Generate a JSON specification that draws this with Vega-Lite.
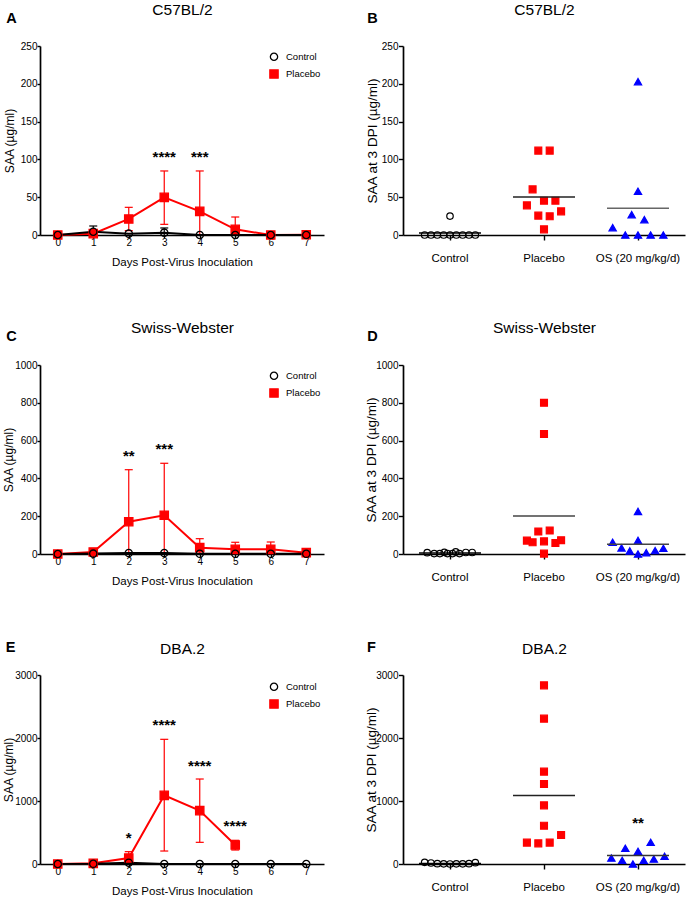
{
  "$schema": "https://vega.github.io/schema/vega-lite/v6.json",
  "padding": {"left": 2, "top": 2, "right": 3, "bottom": 0},
  "background": "white",
  "datasets": {
    "time": [
      {"strain": "C57BL/2", "group": "Placebo", "day": 0, "mean": 0},
      {"strain": "C57BL/2", "group": "Placebo", "day": 1, "mean": 1.8},
      {"strain": "C57BL/2", "group": "Placebo", "day": 2, "mean": 21.2, "lo": 5.8, "hi": 36.6},
      {"strain": "C57BL/2", "group": "Placebo", "day": 3, "mean": 49.8, "lo": 14.1, "hi": 84.7},
      {"strain": "C57BL/2", "group": "Placebo", "day": 4, "mean": 31.3, "lo": 0, "hi": 84.7},
      {"strain": "C57BL/2", "group": "Placebo", "day": 5, "mean": 7.5, "lo": 0, "hi": 23.8},
      {"strain": "C57BL/2", "group": "Placebo", "day": 6, "mean": 0},
      {"strain": "C57BL/2", "group": "Placebo", "day": 7, "mean": 0.4},
      {"strain": "C57BL/2", "group": "Control", "day": 0, "mean": 0},
      {"strain": "C57BL/2", "group": "Control", "day": 1, "mean": 4.4, "lo": 0, "hi": 11.9},
      {"strain": "C57BL/2", "group": "Control", "day": 2, "mean": 1.8},
      {"strain": "C57BL/2", "group": "Control", "day": 3, "mean": 3.1, "lo": 0, "hi": 9.3},
      {"strain": "C57BL/2", "group": "Control", "day": 4, "mean": 0},
      {"strain": "C57BL/2", "group": "Control", "day": 5, "mean": 0},
      {"strain": "C57BL/2", "group": "Control", "day": 6, "mean": 0},
      {"strain": "C57BL/2", "group": "Control", "day": 7, "mean": 0},
      {"strain": "Swiss-Webster", "group": "Placebo", "day": 0, "mean": 0},
      {"strain": "Swiss-Webster", "group": "Placebo", "day": 1, "mean": 10.6, "lo": 0, "hi": 18},
      {"strain": "Swiss-Webster", "group": "Placebo", "day": 2, "mean": 171, "lo": 0, "hi": 446},
      {"strain": "Swiss-Webster", "group": "Placebo", "day": 3, "mean": 205, "lo": 0, "hi": 480},
      {"strain": "Swiss-Webster", "group": "Placebo", "day": 4, "mean": 33.5, "lo": 0, "hi": 81},
      {"strain": "Swiss-Webster", "group": "Placebo", "day": 5, "mean": 24.7, "lo": 0, "hi": 62},
      {"strain": "Swiss-Webster", "group": "Placebo", "day": 6, "mean": 24.7, "lo": 0, "hi": 63.5},
      {"strain": "Swiss-Webster", "group": "Placebo", "day": 7, "mean": 7, "lo": 0, "hi": 14},
      {"strain": "Swiss-Webster", "group": "Control", "day": 0, "mean": 0},
      {"strain": "Swiss-Webster", "group": "Control", "day": 1, "mean": 2},
      {"strain": "Swiss-Webster", "group": "Control", "day": 2, "mean": 5},
      {"strain": "Swiss-Webster", "group": "Control", "day": 3, "mean": 5},
      {"strain": "Swiss-Webster", "group": "Control", "day": 4, "mean": 1},
      {"strain": "Swiss-Webster", "group": "Control", "day": 5, "mean": 1},
      {"strain": "Swiss-Webster", "group": "Control", "day": 6, "mean": 1},
      {"strain": "Swiss-Webster", "group": "Control", "day": 7, "mean": 1},
      {"strain": "DBA.2", "group": "Placebo", "day": 0, "mean": 0},
      {"strain": "DBA.2", "group": "Placebo", "day": 1, "mean": 10.6, "lo": 0, "hi": 25},
      {"strain": "DBA.2", "group": "Placebo", "day": 2, "mean": 95, "lo": 0, "hi": 196},
      {"strain": "DBA.2", "group": "Placebo", "day": 3, "mean": 1090, "lo": 206, "hi": 1979},
      {"strain": "DBA.2", "group": "Placebo", "day": 4, "mean": 847, "lo": 344, "hi": 1349},
      {"strain": "DBA.2", "group": "Placebo", "day": 5, "mean": 302, "lo": 222, "hi": 376},
      {"strain": "DBA.2", "group": "Control", "day": 0, "mean": 0},
      {"strain": "DBA.2", "group": "Control", "day": 1, "mean": 3},
      {"strain": "DBA.2", "group": "Control", "day": 2, "mean": 21},
      {"strain": "DBA.2", "group": "Control", "day": 3, "mean": 0},
      {"strain": "DBA.2", "group": "Control", "day": 4, "mean": 0},
      {"strain": "DBA.2", "group": "Control", "day": 5, "mean": 0},
      {"strain": "DBA.2", "group": "Control", "day": 6, "mean": 0},
      {"strain": "DBA.2", "group": "Control", "day": 7, "mean": 0}
    ],
    "stars_time": [
      {"strain": "C57BL/2", "day": 3, "y": 108, "label": "****"},
      {"strain": "C57BL/2", "day": 4, "y": 108, "label": "***"},
      {"strain": "Swiss-Webster", "day": 2, "y": 541, "label": "**"},
      {"strain": "Swiss-Webster", "day": 3, "y": 577, "label": "***"},
      {"strain": "DBA.2", "day": 2, "y": 476, "label": "*"},
      {"strain": "DBA.2", "day": 3, "y": 2265, "label": "****"},
      {"strain": "DBA.2", "day": 4, "y": 1624, "label": "****"},
      {"strain": "DBA.2", "day": 5, "y": 667, "label": "****"}
    ],
    "stars_dots": [
      {"strain": "DBA.2", "group": "OS (20 mg/kg/d)", "y": 709, "label": "**"}
    ],
    "dots": [
      {"strain": "C57BL/2", "group": "Control", "slot": -4, "value": 0},
      {"strain": "C57BL/2", "group": "Control", "slot": -3, "value": 0},
      {"strain": "C57BL/2", "group": "Control", "slot": -2, "value": 0},
      {"strain": "C57BL/2", "group": "Control", "slot": -1, "value": 0},
      {"strain": "C57BL/2", "group": "Control", "slot": 0, "value": 0},
      {"strain": "C57BL/2", "group": "Control", "slot": 1, "value": 0},
      {"strain": "C57BL/2", "group": "Control", "slot": 2, "value": 0},
      {"strain": "C57BL/2", "group": "Control", "slot": 3, "value": 0},
      {"strain": "C57BL/2", "group": "Control", "slot": 4, "value": 0},
      {"strain": "C57BL/2", "group": "Control", "slot": 0, "value": 25},
      {"strain": "C57BL/2", "group": "Placebo", "slot": -0.9, "value": 111.6},
      {"strain": "C57BL/2", "group": "Placebo", "slot": 0.9, "value": 111.6},
      {"strain": "C57BL/2", "group": "Placebo", "slot": -1.8, "value": 60.4},
      {"strain": "C57BL/2", "group": "Placebo", "slot": -2.7, "value": 39.2},
      {"strain": "C57BL/2", "group": "Placebo", "slot": 0, "value": 45.4},
      {"strain": "C57BL/2", "group": "Placebo", "slot": 1.8, "value": 45.4},
      {"strain": "C57BL/2", "group": "Placebo", "slot": 2.7, "value": 31.3},
      {"strain": "C57BL/2", "group": "Placebo", "slot": -0.9, "value": 25.6},
      {"strain": "C57BL/2", "group": "Placebo", "slot": 0.9, "value": 24.7},
      {"strain": "C57BL/2", "group": "Placebo", "slot": 0, "value": 7.5},
      {"strain": "C57BL/2", "group": "OS (20 mg/kg/d)", "slot": 0, "value": 202.8},
      {"strain": "C57BL/2", "group": "OS (20 mg/kg/d)", "slot": 0, "value": 57.8},
      {"strain": "C57BL/2", "group": "OS (20 mg/kg/d)", "slot": -1, "value": 26.9},
      {"strain": "C57BL/2", "group": "OS (20 mg/kg/d)", "slot": 1, "value": 20.3},
      {"strain": "C57BL/2", "group": "OS (20 mg/kg/d)", "slot": -4, "value": 9.7},
      {"strain": "C57BL/2", "group": "OS (20 mg/kg/d)", "slot": -2, "value": 0},
      {"strain": "C57BL/2", "group": "OS (20 mg/kg/d)", "slot": 0, "value": 0},
      {"strain": "C57BL/2", "group": "OS (20 mg/kg/d)", "slot": 2, "value": 0},
      {"strain": "C57BL/2", "group": "OS (20 mg/kg/d)", "slot": 4, "value": 0},
      {"strain": "Swiss-Webster", "group": "Control", "slot": -3.6, "value": 7},
      {"strain": "Swiss-Webster", "group": "Control", "slot": -2.5, "value": 2},
      {"strain": "Swiss-Webster", "group": "Control", "slot": -1.6, "value": 2},
      {"strain": "Swiss-Webster", "group": "Control", "slot": -0.9, "value": 9},
      {"strain": "Swiss-Webster", "group": "Control", "slot": -0.4, "value": 2},
      {"strain": "Swiss-Webster", "group": "Control", "slot": 0.4, "value": 2},
      {"strain": "Swiss-Webster", "group": "Control", "slot": 0.9, "value": 11},
      {"strain": "Swiss-Webster", "group": "Control", "slot": 1.5, "value": 2},
      {"strain": "Swiss-Webster", "group": "Control", "slot": 2.5, "value": 8},
      {"strain": "Swiss-Webster", "group": "Control", "slot": 3.5, "value": 8},
      {"strain": "Swiss-Webster", "group": "Placebo", "slot": 0, "value": 800},
      {"strain": "Swiss-Webster", "group": "Placebo", "slot": 0, "value": 635},
      {"strain": "Swiss-Webster", "group": "Placebo", "slot": -0.9, "value": 119},
      {"strain": "Swiss-Webster", "group": "Placebo", "slot": 0.9, "value": 124},
      {"strain": "Swiss-Webster", "group": "Placebo", "slot": -2.7, "value": 71},
      {"strain": "Swiss-Webster", "group": "Placebo", "slot": -1.8, "value": 62},
      {"strain": "Swiss-Webster", "group": "Placebo", "slot": 0, "value": 67},
      {"strain": "Swiss-Webster", "group": "Placebo", "slot": 1.8, "value": 58},
      {"strain": "Swiss-Webster", "group": "Placebo", "slot": 2.7, "value": 73},
      {"strain": "Swiss-Webster", "group": "Placebo", "slot": 0, "value": 2},
      {"strain": "Swiss-Webster", "group": "OS (20 mg/kg/d)", "slot": 0, "value": 225},
      {"strain": "Swiss-Webster", "group": "OS (20 mg/kg/d)", "slot": 0, "value": 72},
      {"strain": "Swiss-Webster", "group": "OS (20 mg/kg/d)", "slot": -4, "value": 62},
      {"strain": "Swiss-Webster", "group": "OS (20 mg/kg/d)", "slot": -2.6, "value": 32},
      {"strain": "Swiss-Webster", "group": "OS (20 mg/kg/d)", "slot": -1.3, "value": 16},
      {"strain": "Swiss-Webster", "group": "OS (20 mg/kg/d)", "slot": 0, "value": 0},
      {"strain": "Swiss-Webster", "group": "OS (20 mg/kg/d)", "slot": 1.3, "value": 7},
      {"strain": "Swiss-Webster", "group": "OS (20 mg/kg/d)", "slot": 2.7, "value": 18},
      {"strain": "Swiss-Webster", "group": "OS (20 mg/kg/d)", "slot": 4, "value": 30},
      {"strain": "DBA.2", "group": "Control", "slot": -4, "value": 26},
      {"strain": "DBA.2", "group": "Control", "slot": -3, "value": 16},
      {"strain": "DBA.2", "group": "Control", "slot": -2, "value": 5},
      {"strain": "DBA.2", "group": "Control", "slot": -1, "value": 2},
      {"strain": "DBA.2", "group": "Control", "slot": 0, "value": 0},
      {"strain": "DBA.2", "group": "Control", "slot": 1, "value": 2},
      {"strain": "DBA.2", "group": "Control", "slot": 2, "value": 2},
      {"strain": "DBA.2", "group": "Control", "slot": 3, "value": 5},
      {"strain": "DBA.2", "group": "Control", "slot": 4, "value": 21},
      {"strain": "DBA.2", "group": "Placebo", "slot": 0, "value": 2836},
      {"strain": "DBA.2", "group": "Placebo", "slot": 0, "value": 2307},
      {"strain": "DBA.2", "group": "Placebo", "slot": 0, "value": 1466},
      {"strain": "DBA.2", "group": "Placebo", "slot": 0, "value": 1270},
      {"strain": "DBA.2", "group": "Placebo", "slot": 0, "value": 931},
      {"strain": "DBA.2", "group": "Placebo", "slot": 0, "value": 608},
      {"strain": "DBA.2", "group": "Placebo", "slot": 2.7, "value": 460},
      {"strain": "DBA.2", "group": "Placebo", "slot": -2.7, "value": 339},
      {"strain": "DBA.2", "group": "Placebo", "slot": -0.9, "value": 328},
      {"strain": "DBA.2", "group": "Placebo", "slot": 0.9, "value": 339},
      {"strain": "DBA.2", "group": "OS (20 mg/kg/d)", "slot": 2, "value": 344},
      {"strain": "DBA.2", "group": "OS (20 mg/kg/d)", "slot": -2, "value": 249},
      {"strain": "DBA.2", "group": "OS (20 mg/kg/d)", "slot": 0, "value": 201},
      {"strain": "DBA.2", "group": "OS (20 mg/kg/d)", "slot": -4.2, "value": 95},
      {"strain": "DBA.2", "group": "OS (20 mg/kg/d)", "slot": -2.5, "value": 58},
      {"strain": "DBA.2", "group": "OS (20 mg/kg/d)", "slot": -0.8, "value": 0},
      {"strain": "DBA.2", "group": "OS (20 mg/kg/d)", "slot": 0.9, "value": 58},
      {"strain": "DBA.2", "group": "OS (20 mg/kg/d)", "slot": 2.5, "value": 79},
      {"strain": "DBA.2", "group": "OS (20 mg/kg/d)", "slot": 4.2, "value": 122}
    ]
  },
  "columns": 2,
  "spacing": {"row": 52, "column": 40},
  "align": "each",
  "resolve": {"scale": {"color": "independent", "fill": "independent", "stroke": "independent", "shape": "independent", "size": "independent", "xOffset": "independent"}},
  "concat": [
    {
      "width": 284, "height": 189,
      "resolve": {"axis": {"x": "independent", "y": "independent"}},
      "layer": [
        {"data": {"name": "time"}, "transform": [{"filter": "datum.strain === 'C57BL/2' && isValid(datum.hi)"}],
         "mark": {"type": "rule", "strokeWidth": 1.2},
         "encoding": {
           "x": {"field": "day", "type": "quantitative", "scale": {"domain": [-0.5, 7.5], "nice": false, "zero": false},
                 "axis": {"orient": "bottom", "values": [0,1,2,3,4,5,6,7], "title": "Days Post-Virus Inoculation", "tickSize": 3, "labelPadding": -1, "labelFlush": false, "titleFontSize": 11.5, "titleY": 27, "titleBaseline": "middle"}},
           "y": {"field": "lo", "type": "quantitative", "scale": {"domain": [0, 250], "nice": false},
                 "axis": {"orient": "left", "values": [0,50,100,150,200,250], "format": "d", "title": "SAA (µg/ml)", "tickSize": 3, "labelPadding": 0, "titleFontSize": 12, "titleX": -30.5, "titleBaseline": "middle"}},
           "y2": {"field": "hi"},
           "color": {"field": "group", "type": "nominal", "scale": {"domain": ["Placebo", "Control"], "range": ["#ff0000", "#000000"]}, "legend": null}
         }},
        {"data": {"name": "time"}, "transform": [{"filter": "datum.strain === 'C57BL/2' && isValid(datum.hi)"}],
         "mark": {"type": "tick", "orient": "horizontal", "size": 8, "thickness": 1.2, "opacity": 1},
         "encoding": {
           "x": {"field": "day", "type": "quantitative", "scale": {"domain": [-0.5, 7.5], "nice": false, "zero": false}, "axis": null},
           "y": {"field": "hi", "type": "quantitative", "scale": {"domain": [0, 250], "nice": false}, "axis": null},
           "color": {"field": "group", "type": "nominal", "scale": {"domain": ["Placebo", "Control"], "range": ["#ff0000", "#000000"]}, "legend": null}
         }},
        {"data": {"name": "time"}, "transform": [{"filter": "datum.strain === 'C57BL/2' && datum.lo > 0"}],
         "mark": {"type": "tick", "orient": "horizontal", "size": 8, "thickness": 1.2, "opacity": 1},
         "encoding": {
           "x": {"field": "day", "type": "quantitative", "scale": {"domain": [-0.5, 7.5], "nice": false, "zero": false}, "axis": null},
           "y": {"field": "lo", "type": "quantitative", "scale": {"domain": [0, 250], "nice": false}, "axis": null},
           "color": {"field": "group", "type": "nominal", "scale": {"domain": ["Placebo", "Control"], "range": ["#ff0000", "#000000"]}, "legend": null}
         }},
        {"data": {"name": "time"}, "transform": [{"filter": "datum.strain === 'C57BL/2'"}],
         "mark": {"type": "line", "strokeWidth": 2},
         "encoding": {
           "x": {"field": "day", "type": "quantitative", "scale": {"domain": [-0.5, 7.5], "nice": false, "zero": false},
                 "axis": {"orient": "top", "title": "C57BL/2", "titleX": 142, "titleY": -37, "titleAngle": 0, "titleAlign": "center", "titleBaseline": "middle", "titleFontSize": 15.5, "labels": false, "ticks": false, "domain": false}},
           "y": {"field": "mean", "type": "quantitative", "scale": {"domain": [0, 250], "nice": false}, "axis": null},
           "color": {"field": "group", "type": "nominal", "scale": {"domain": ["Placebo", "Control"], "range": ["#ff0000", "#000000"]}, "legend": null}
         }},
        {"data": {"name": "time"}, "transform": [{"filter": "datum.strain === 'C57BL/2'"}],
         "mark": {"type": "point", "opacity": 1, "strokeWidth": 1.3},
         "encoding": {
           "x": {"field": "day", "type": "quantitative", "scale": {"domain": [-0.5, 7.5], "nice": false, "zero": false}, "axis": null},
           "y": {"field": "mean", "type": "quantitative", "scale": {"domain": [0, 250], "nice": false}, "axis": null},
           "shape": {"field": "group", "type": "nominal", "scale": {"domain": ["Control", "Placebo"], "range": ["circle", "square"]},
                     "legend": {"orient": "none", "legendX": 229, "legendY": 6, "title": null, "padding": 0, "symbolSize": 45, "symbolStrokeWidth": 1.3, "labelFontSize": 9.5, "labelOffset": 7, "rowPadding": 4,
                       "encode": {"symbols": {
                         "shape": {"condition": {"test": "datum.value === 'Control'", "value": "M-1,0A1,1,0,1,1,1,0A1,1,0,1,1,-1,0ZM-1.7,0L1.7,0"}, "value": "M-1.1,-1.1H1.1V1.1H-1.1ZM-1.7,0L1.7,0"},
                         "size": {"value": 45},
                         "fill": {"condition": {"test": "datum.value === 'Control'", "value": "transparent"}, "value": "#ff0000"},
                         "stroke": {"condition": {"test": "datum.value === 'Control'", "value": "#000000"}, "value": "#ff0000"}}}}},
           "stroke": {"field": "group", "type": "nominal", "scale": {"domain": ["Control", "Placebo"], "range": ["#000000", "#ff0000"]},
                     "legend": {"orient": "none", "legendX": 229, "legendY": 6, "title": null, "padding": 0, "symbolSize": 45, "symbolStrokeWidth": 1.3, "labelFontSize": 9.5, "labelOffset": 7, "rowPadding": 4,
                       "encode": {"symbols": {
                         "shape": {"condition": {"test": "datum.value === 'Control'", "value": "M-1,0A1,1,0,1,1,1,0A1,1,0,1,1,-1,0ZM-1.7,0L1.7,0"}, "value": "M-1.1,-1.1H1.1V1.1H-1.1ZM-1.7,0L1.7,0"},
                         "size": {"value": 45},
                         "fill": {"condition": {"test": "datum.value === 'Control'", "value": "transparent"}, "value": "#ff0000"},
                         "stroke": {"condition": {"test": "datum.value === 'Control'", "value": "#000000"}, "value": "#ff0000"}}}}},
           "fill": {"field": "group", "type": "nominal", "scale": {"domain": ["Control", "Placebo"], "range": ["transparent", "#ff0000"]},
                     "legend": {"orient": "none", "legendX": 229, "legendY": 6, "title": null, "padding": 0, "symbolSize": 45, "symbolStrokeWidth": 1.3, "labelFontSize": 9.5, "labelOffset": 7, "rowPadding": 4,
                       "encode": {"symbols": {
                         "shape": {"condition": {"test": "datum.value === 'Control'", "value": "M-1,0A1,1,0,1,1,1,0A1,1,0,1,1,-1,0ZM-1.7,0L1.7,0"}, "value": "M-1.1,-1.1H1.1V1.1H-1.1ZM-1.7,0L1.7,0"},
                         "size": {"value": 45},
                         "fill": {"condition": {"test": "datum.value === 'Control'", "value": "transparent"}, "value": "#ff0000"},
                         "stroke": {"condition": {"test": "datum.value === 'Control'", "value": "#000000"}, "value": "#ff0000"}}}}},
           "size": {"field": "group", "type": "nominal", "scale": {"domain": ["Control", "Placebo"], "range": [53, 69]},
                     "legend": {"orient": "none", "legendX": 229, "legendY": 6, "title": null, "padding": 0, "symbolSize": 45, "symbolStrokeWidth": 1.3, "labelFontSize": 9.5, "labelOffset": 7, "rowPadding": 4,
                       "encode": {"symbols": {
                         "shape": {"condition": {"test": "datum.value === 'Control'", "value": "M-1,0A1,1,0,1,1,1,0A1,1,0,1,1,-1,0ZM-1.7,0L1.7,0"}, "value": "M-1.1,-1.1H1.1V1.1H-1.1ZM-1.7,0L1.7,0"},
                         "size": {"value": 45},
                         "fill": {"condition": {"test": "datum.value === 'Control'", "value": "transparent"}, "value": "#ff0000"},
                         "stroke": {"condition": {"test": "datum.value === 'Control'", "value": "#000000"}, "value": "#ff0000"}}}}}
         }},
        {"data": {"name": "stars_time"}, "transform": [{"filter": "datum.strain === 'C57BL/2'"}],
         "mark": {"type": "text", "fontSize": 15, "fontWeight": "bold", "baseline": "middle", "dy": 4},
         "encoding": {
           "x": {"field": "day", "type": "quantitative", "scale": {"domain": [-0.5, 7.5], "nice": false, "zero": false},
                 "axis": {"orient": "top", "title": "A", "titleX": -29, "titleY": -28, "titleAngle": 0, "titleAlign": "center", "titleBaseline": "middle", "titleFontSize": 14.5, "titleFontWeight": "bold", "labels": false, "ticks": false, "domain": false}},
           "y": {"field": "y", "type": "quantitative", "scale": {"domain": [0, 250], "nice": false}, "axis": null},
           "text": {"field": "label"}
         }}
      ]
    },
    {
      "width": 282, "height": 189,
      "resolve": {"axis": {"x": "independent", "y": "independent"}},
      "layer": [
        {"data": {"name": "dots"}, "transform": [{"filter": "datum.strain === 'C57BL/2'"}],
         "mark": {"type": "point", "opacity": 1, "strokeWidth": 1.2},
         "encoding": {
           "x": {"field": "group", "type": "nominal", "scale": {"type": "band", "domain": ["Control", "Placebo", "OS (20 mg/kg/d)"], "paddingInner": 0, "paddingOuter": 0},
                 "axis": {"orient": "bottom", "title": null, "tickSize": 5, "labelPadding": 12, "labelFontSize": 11.5, "labelAngle": 0}},
           "xOffset": {"field": "slot", "type": "quantitative", "scale": {"domain": [-7.42, 7.42]}},
           "y": {"field": "value", "type": "quantitative", "scale": {"domain": [0, 250], "nice": false},
                 "axis": {"orient": "left", "values": [0,50,100,150,200,250], "format": "d", "title": "SAA at 3 DPI (µg/ml)", "tickSize": 4.5, "labelPadding": 0.5, "titleFontSize": 13.5, "titleX": -30.5, "titleBaseline": "middle"}},
           "shape": {"field": "group", "type": "nominal", "scale": {"domain": ["Control", "Placebo", "OS (20 mg/kg/d)"], "range": ["circle", "square", "triangle-up"]}, "legend": null},
           "stroke": {"field": "group", "type": "nominal", "scale": {"domain": ["Control", "Placebo", "OS (20 mg/kg/d)"], "range": ["#000000", "#ff0000", "#0000ff"]}, "legend": null},
           "fill": {"field": "group", "type": "nominal", "scale": {"domain": ["Control", "Placebo", "OS (20 mg/kg/d)"], "range": ["transparent", "#ff0000", "#0000ff"]}, "legend": null},
           "size": {"field": "group", "type": "nominal", "scale": {"domain": ["Control", "Placebo", "OS (20 mg/kg/d)"], "range": [42, 53, 69]}, "legend": null}
         }},
        {"data": {"name": "dots"}, "transform": [{"filter": "datum.strain === 'C57BL/2'"}],
         "mark": {"type": "tick", "orient": "horizontal", "size": 62, "thickness": 1.5, "opacity": 1},
         "encoding": {
           "x": {"field": "group", "type": "nominal", "scale": {"type": "band", "domain": ["Control", "Placebo", "OS (20 mg/kg/d)"], "paddingInner": 0, "paddingOuter": 0},
                 "axis": {"orient": "top", "title": "C57BL/2", "titleX": 141, "titleY": -37, "titleAngle": 0, "titleAlign": "center", "titleBaseline": "middle", "titleFontSize": 15.5, "labels": false, "ticks": false, "domain": false}},
           "y": {"aggregate": "mean", "field": "value", "type": "quantitative", "scale": {"domain": [0, 250], "nice": false}, "axis": null},
           "color": {"field": "group", "type": "nominal", "scale": {"domain": ["Control", "Placebo", "OS (20 mg/kg/d)"], "range": ["#000000", "#222222", "#666666"]}, "legend": null}
         }},
        {"data": {"name": "stars_dots"}, "transform": [{"filter": "datum.strain === 'C57BL/2'"}],
         "mark": {"type": "text", "fontSize": 15, "fontWeight": "bold", "baseline": "middle", "dy": 4},
         "encoding": {
           "x": {"field": "group", "type": "nominal", "scale": {"type": "band", "domain": ["Control", "Placebo", "OS (20 mg/kg/d)"], "paddingInner": 0, "paddingOuter": 0},
                 "axis": {"orient": "top", "title": "B", "titleX": -31, "titleY": -28, "titleAngle": 0, "titleAlign": "center", "titleBaseline": "middle", "titleFontSize": 14.5, "titleFontWeight": "bold", "labels": false, "ticks": false, "domain": false}},
           "y": {"field": "y", "type": "quantitative", "scale": {"domain": [0, 250], "nice": false}, "axis": null},
           "text": {"field": "label"}
         }}
      ]
    },
    {
      "width": 284, "height": 189,
      "resolve": {"axis": {"x": "independent", "y": "independent"}},
      "layer": [
        {"data": {"name": "time"}, "transform": [{"filter": "datum.strain === 'Swiss-Webster' && isValid(datum.hi)"}],
         "mark": {"type": "rule", "strokeWidth": 1.2},
         "encoding": {
           "x": {"field": "day", "type": "quantitative", "scale": {"domain": [-0.5, 7.5], "nice": false, "zero": false},
                 "axis": {"orient": "bottom", "values": [0,1,2,3,4,5,6,7], "title": "Days Post-Virus Inoculation", "tickSize": 3, "labelPadding": -1, "labelFlush": false, "titleFontSize": 11.5, "titleY": 27, "titleBaseline": "middle"}},
           "y": {"field": "lo", "type": "quantitative", "scale": {"domain": [0, 1000], "nice": false},
                 "axis": {"orient": "left", "values": [0,200,400,600,800,1000], "format": "d", "title": "SAA (µg/ml)", "tickSize": 3, "labelPadding": 0, "titleFontSize": 12, "titleX": -31.5, "titleBaseline": "middle"}},
           "y2": {"field": "hi"},
           "color": {"field": "group", "type": "nominal", "scale": {"domain": ["Placebo", "Control"], "range": ["#ff0000", "#000000"]}, "legend": null}
         }},
        {"data": {"name": "time"}, "transform": [{"filter": "datum.strain === 'Swiss-Webster' && isValid(datum.hi)"}],
         "mark": {"type": "tick", "orient": "horizontal", "size": 8, "thickness": 1.2, "opacity": 1},
         "encoding": {
           "x": {"field": "day", "type": "quantitative", "scale": {"domain": [-0.5, 7.5], "nice": false, "zero": false}, "axis": null},
           "y": {"field": "hi", "type": "quantitative", "scale": {"domain": [0, 1000], "nice": false}, "axis": null},
           "color": {"field": "group", "type": "nominal", "scale": {"domain": ["Placebo", "Control"], "range": ["#ff0000", "#000000"]}, "legend": null}
         }},
        {"data": {"name": "time"}, "transform": [{"filter": "datum.strain === 'Swiss-Webster' && datum.lo > 0"}],
         "mark": {"type": "tick", "orient": "horizontal", "size": 8, "thickness": 1.2, "opacity": 1},
         "encoding": {
           "x": {"field": "day", "type": "quantitative", "scale": {"domain": [-0.5, 7.5], "nice": false, "zero": false}, "axis": null},
           "y": {"field": "lo", "type": "quantitative", "scale": {"domain": [0, 1000], "nice": false}, "axis": null},
           "color": {"field": "group", "type": "nominal", "scale": {"domain": ["Placebo", "Control"], "range": ["#ff0000", "#000000"]}, "legend": null}
         }},
        {"data": {"name": "time"}, "transform": [{"filter": "datum.strain === 'Swiss-Webster'"}],
         "mark": {"type": "line", "strokeWidth": 2},
         "encoding": {
           "x": {"field": "day", "type": "quantitative", "scale": {"domain": [-0.5, 7.5], "nice": false, "zero": false},
                 "axis": {"orient": "top", "title": "Swiss-Webster", "titleX": 142, "titleY": -38, "titleAngle": 0, "titleAlign": "center", "titleBaseline": "middle", "titleFontSize": 15.5, "labels": false, "ticks": false, "domain": false}},
           "y": {"field": "mean", "type": "quantitative", "scale": {"domain": [0, 1000], "nice": false}, "axis": null},
           "color": {"field": "group", "type": "nominal", "scale": {"domain": ["Placebo", "Control"], "range": ["#ff0000", "#000000"]}, "legend": null}
         }},
        {"data": {"name": "time"}, "transform": [{"filter": "datum.strain === 'Swiss-Webster'"}],
         "mark": {"type": "point", "opacity": 1, "strokeWidth": 1.3},
         "encoding": {
           "x": {"field": "day", "type": "quantitative", "scale": {"domain": [-0.5, 7.5], "nice": false, "zero": false}, "axis": null},
           "y": {"field": "mean", "type": "quantitative", "scale": {"domain": [0, 1000], "nice": false}, "axis": null},
           "shape": {"field": "group", "type": "nominal", "scale": {"domain": ["Control", "Placebo"], "range": ["circle", "square"]},
                     "legend": {"orient": "none", "legendX": 229, "legendY": 6, "title": null, "padding": 0, "symbolSize": 45, "symbolStrokeWidth": 1.3, "labelFontSize": 9.5, "labelOffset": 7, "rowPadding": 4,
                       "encode": {"symbols": {
                         "shape": {"condition": {"test": "datum.value === 'Control'", "value": "M-1,0A1,1,0,1,1,1,0A1,1,0,1,1,-1,0ZM-1.7,0L1.7,0"}, "value": "M-1.1,-1.1H1.1V1.1H-1.1ZM-1.7,0L1.7,0"},
                         "size": {"value": 45},
                         "fill": {"condition": {"test": "datum.value === 'Control'", "value": "transparent"}, "value": "#ff0000"},
                         "stroke": {"condition": {"test": "datum.value === 'Control'", "value": "#000000"}, "value": "#ff0000"}}}}},
           "stroke": {"field": "group", "type": "nominal", "scale": {"domain": ["Control", "Placebo"], "range": ["#000000", "#ff0000"]},
                     "legend": {"orient": "none", "legendX": 229, "legendY": 6, "title": null, "padding": 0, "symbolSize": 45, "symbolStrokeWidth": 1.3, "labelFontSize": 9.5, "labelOffset": 7, "rowPadding": 4,
                       "encode": {"symbols": {
                         "shape": {"condition": {"test": "datum.value === 'Control'", "value": "M-1,0A1,1,0,1,1,1,0A1,1,0,1,1,-1,0ZM-1.7,0L1.7,0"}, "value": "M-1.1,-1.1H1.1V1.1H-1.1ZM-1.7,0L1.7,0"},
                         "size": {"value": 45},
                         "fill": {"condition": {"test": "datum.value === 'Control'", "value": "transparent"}, "value": "#ff0000"},
                         "stroke": {"condition": {"test": "datum.value === 'Control'", "value": "#000000"}, "value": "#ff0000"}}}}},
           "fill": {"field": "group", "type": "nominal", "scale": {"domain": ["Control", "Placebo"], "range": ["transparent", "#ff0000"]},
                     "legend": {"orient": "none", "legendX": 229, "legendY": 6, "title": null, "padding": 0, "symbolSize": 45, "symbolStrokeWidth": 1.3, "labelFontSize": 9.5, "labelOffset": 7, "rowPadding": 4,
                       "encode": {"symbols": {
                         "shape": {"condition": {"test": "datum.value === 'Control'", "value": "M-1,0A1,1,0,1,1,1,0A1,1,0,1,1,-1,0ZM-1.7,0L1.7,0"}, "value": "M-1.1,-1.1H1.1V1.1H-1.1ZM-1.7,0L1.7,0"},
                         "size": {"value": 45},
                         "fill": {"condition": {"test": "datum.value === 'Control'", "value": "transparent"}, "value": "#ff0000"},
                         "stroke": {"condition": {"test": "datum.value === 'Control'", "value": "#000000"}, "value": "#ff0000"}}}}},
           "size": {"field": "group", "type": "nominal", "scale": {"domain": ["Control", "Placebo"], "range": [53, 69]},
                     "legend": {"orient": "none", "legendX": 229, "legendY": 6, "title": null, "padding": 0, "symbolSize": 45, "symbolStrokeWidth": 1.3, "labelFontSize": 9.5, "labelOffset": 7, "rowPadding": 4,
                       "encode": {"symbols": {
                         "shape": {"condition": {"test": "datum.value === 'Control'", "value": "M-1,0A1,1,0,1,1,1,0A1,1,0,1,1,-1,0ZM-1.7,0L1.7,0"}, "value": "M-1.1,-1.1H1.1V1.1H-1.1ZM-1.7,0L1.7,0"},
                         "size": {"value": 45},
                         "fill": {"condition": {"test": "datum.value === 'Control'", "value": "transparent"}, "value": "#ff0000"},
                         "stroke": {"condition": {"test": "datum.value === 'Control'", "value": "#000000"}, "value": "#ff0000"}}}}}
         }},
        {"data": {"name": "stars_time"}, "transform": [{"filter": "datum.strain === 'Swiss-Webster'"}],
         "mark": {"type": "text", "fontSize": 15, "fontWeight": "bold", "baseline": "middle", "dy": 4},
         "encoding": {
           "x": {"field": "day", "type": "quantitative", "scale": {"domain": [-0.5, 7.5], "nice": false, "zero": false},
                 "axis": {"orient": "top", "title": "C", "titleX": -29, "titleY": -29, "titleAngle": 0, "titleAlign": "center", "titleBaseline": "middle", "titleFontSize": 14.5, "titleFontWeight": "bold", "labels": false, "ticks": false, "domain": false}},
           "y": {"field": "y", "type": "quantitative", "scale": {"domain": [0, 1000], "nice": false}, "axis": null},
           "text": {"field": "label"}
         }}
      ]
    },
    {
      "width": 282, "height": 189,
      "resolve": {"axis": {"x": "independent", "y": "independent"}},
      "layer": [
        {"data": {"name": "dots"}, "transform": [{"filter": "datum.strain === 'Swiss-Webster'"}],
         "mark": {"type": "point", "opacity": 1, "strokeWidth": 1.2},
         "encoding": {
           "x": {"field": "group", "type": "nominal", "scale": {"type": "band", "domain": ["Control", "Placebo", "OS (20 mg/kg/d)"], "paddingInner": 0, "paddingOuter": 0},
                 "axis": {"orient": "bottom", "title": null, "tickSize": 5, "labelPadding": 12, "labelFontSize": 11.5, "labelAngle": 0}},
           "xOffset": {"field": "slot", "type": "quantitative", "scale": {"domain": [-7.42, 7.42]}},
           "y": {"field": "value", "type": "quantitative", "scale": {"domain": [0, 1000], "nice": false},
                 "axis": {"orient": "left", "values": [0,200,400,600,800,1000], "format": "d", "title": "SAA at 3 DPI (µg/ml)", "tickSize": 4.5, "labelPadding": 0.5, "titleFontSize": 13.5, "titleX": -31.5, "titleBaseline": "middle"}},
           "shape": {"field": "group", "type": "nominal", "scale": {"domain": ["Control", "Placebo", "OS (20 mg/kg/d)"], "range": ["circle", "square", "triangle-up"]}, "legend": null},
           "stroke": {"field": "group", "type": "nominal", "scale": {"domain": ["Control", "Placebo", "OS (20 mg/kg/d)"], "range": ["#000000", "#ff0000", "#0000ff"]}, "legend": null},
           "fill": {"field": "group", "type": "nominal", "scale": {"domain": ["Control", "Placebo", "OS (20 mg/kg/d)"], "range": ["transparent", "#ff0000", "#0000ff"]}, "legend": null},
           "size": {"field": "group", "type": "nominal", "scale": {"domain": ["Control", "Placebo", "OS (20 mg/kg/d)"], "range": [42, 53, 69]}, "legend": null}
         }},
        {"data": {"name": "dots"}, "transform": [{"filter": "datum.strain === 'Swiss-Webster'"}],
         "mark": {"type": "tick", "orient": "horizontal", "size": 62, "thickness": 1.5, "opacity": 1},
         "encoding": {
           "x": {"field": "group", "type": "nominal", "scale": {"type": "band", "domain": ["Control", "Placebo", "OS (20 mg/kg/d)"], "paddingInner": 0, "paddingOuter": 0},
                 "axis": {"orient": "top", "title": "Swiss-Webster", "titleX": 141, "titleY": -38, "titleAngle": 0, "titleAlign": "center", "titleBaseline": "middle", "titleFontSize": 15.5, "labels": false, "ticks": false, "domain": false}},
           "y": {"aggregate": "mean", "field": "value", "type": "quantitative", "scale": {"domain": [0, 1000], "nice": false}, "axis": null},
           "color": {"field": "group", "type": "nominal", "scale": {"domain": ["Control", "Placebo", "OS (20 mg/kg/d)"], "range": ["#000000", "#444444", "#444444"]}, "legend": null}
         }},
        {"data": {"name": "stars_dots"}, "transform": [{"filter": "datum.strain === 'Swiss-Webster'"}],
         "mark": {"type": "text", "fontSize": 15, "fontWeight": "bold", "baseline": "middle", "dy": 4},
         "encoding": {
           "x": {"field": "group", "type": "nominal", "scale": {"type": "band", "domain": ["Control", "Placebo", "OS (20 mg/kg/d)"], "paddingInner": 0, "paddingOuter": 0},
                 "axis": {"orient": "top", "title": "D", "titleX": -31, "titleY": -29, "titleAngle": 0, "titleAlign": "center", "titleBaseline": "middle", "titleFontSize": 14.5, "titleFontWeight": "bold", "labels": false, "ticks": false, "domain": false}},
           "y": {"field": "y", "type": "quantitative", "scale": {"domain": [0, 1000], "nice": false}, "axis": null},
           "text": {"field": "label"}
         }}
      ]
    },
    {
      "width": 284, "height": 189,
      "resolve": {"axis": {"x": "independent", "y": "independent"}},
      "layer": [
        {"data": {"name": "time"}, "transform": [{"filter": "datum.strain === 'DBA.2' && isValid(datum.hi)"}],
         "mark": {"type": "rule", "strokeWidth": 1.2},
         "encoding": {
           "x": {"field": "day", "type": "quantitative", "scale": {"domain": [-0.5, 7.5], "nice": false, "zero": false},
                 "axis": {"orient": "bottom", "values": [0,1,2,3,4,5,6,7], "title": "Days Post-Virus Inoculation", "tickSize": 3, "labelPadding": -1, "labelFlush": false, "titleFontSize": 11.5, "titleY": 27, "titleBaseline": "middle"}},
           "y": {"field": "lo", "type": "quantitative", "scale": {"domain": [0, 3000], "nice": false},
                 "axis": {"orient": "left", "values": [0,1000,2000,3000], "format": "d", "title": "SAA (µg/ml)", "tickSize": 3, "labelPadding": 0, "titleFontSize": 12, "titleX": -31.5, "titleBaseline": "middle"}},
           "y2": {"field": "hi"},
           "color": {"field": "group", "type": "nominal", "scale": {"domain": ["Placebo", "Control"], "range": ["#ff0000", "#000000"]}, "legend": null}
         }},
        {"data": {"name": "time"}, "transform": [{"filter": "datum.strain === 'DBA.2' && isValid(datum.hi)"}],
         "mark": {"type": "tick", "orient": "horizontal", "size": 8, "thickness": 1.2, "opacity": 1},
         "encoding": {
           "x": {"field": "day", "type": "quantitative", "scale": {"domain": [-0.5, 7.5], "nice": false, "zero": false}, "axis": null},
           "y": {"field": "hi", "type": "quantitative", "scale": {"domain": [0, 3000], "nice": false}, "axis": null},
           "color": {"field": "group", "type": "nominal", "scale": {"domain": ["Placebo", "Control"], "range": ["#ff0000", "#000000"]}, "legend": null}
         }},
        {"data": {"name": "time"}, "transform": [{"filter": "datum.strain === 'DBA.2' && datum.lo > 0"}],
         "mark": {"type": "tick", "orient": "horizontal", "size": 8, "thickness": 1.2, "opacity": 1},
         "encoding": {
           "x": {"field": "day", "type": "quantitative", "scale": {"domain": [-0.5, 7.5], "nice": false, "zero": false}, "axis": null},
           "y": {"field": "lo", "type": "quantitative", "scale": {"domain": [0, 3000], "nice": false}, "axis": null},
           "color": {"field": "group", "type": "nominal", "scale": {"domain": ["Placebo", "Control"], "range": ["#ff0000", "#000000"]}, "legend": null}
         }},
        {"data": {"name": "time"}, "transform": [{"filter": "datum.strain === 'DBA.2'"}],
         "mark": {"type": "line", "strokeWidth": 2},
         "encoding": {
           "x": {"field": "day", "type": "quantitative", "scale": {"domain": [-0.5, 7.5], "nice": false, "zero": false},
                 "axis": {"orient": "top", "title": "DBA.2", "titleX": 142, "titleY": -27, "titleAngle": 0, "titleAlign": "center", "titleBaseline": "middle", "titleFontSize": 15.5, "labels": false, "ticks": false, "domain": false}},
           "y": {"field": "mean", "type": "quantitative", "scale": {"domain": [0, 3000], "nice": false}, "axis": null},
           "color": {"field": "group", "type": "nominal", "scale": {"domain": ["Placebo", "Control"], "range": ["#ff0000", "#000000"]}, "legend": null}
         }},
        {"data": {"name": "time"}, "transform": [{"filter": "datum.strain === 'DBA.2'"}],
         "mark": {"type": "point", "opacity": 1, "strokeWidth": 1.3},
         "encoding": {
           "x": {"field": "day", "type": "quantitative", "scale": {"domain": [-0.5, 7.5], "nice": false, "zero": false}, "axis": null},
           "y": {"field": "mean", "type": "quantitative", "scale": {"domain": [0, 3000], "nice": false}, "axis": null},
           "shape": {"field": "group", "type": "nominal", "scale": {"domain": ["Control", "Placebo"], "range": ["circle", "square"]},
                     "legend": {"orient": "none", "legendX": 229, "legendY": 7, "title": null, "padding": 0, "symbolSize": 45, "symbolStrokeWidth": 1.3, "labelFontSize": 9.5, "labelOffset": 7, "rowPadding": 4,
                       "encode": {"symbols": {
                         "shape": {"condition": {"test": "datum.value === 'Control'", "value": "M-1,0A1,1,0,1,1,1,0A1,1,0,1,1,-1,0ZM-1.7,0L1.7,0"}, "value": "M-1.1,-1.1H1.1V1.1H-1.1ZM-1.7,0L1.7,0"},
                         "size": {"value": 45},
                         "fill": {"condition": {"test": "datum.value === 'Control'", "value": "transparent"}, "value": "#ff0000"},
                         "stroke": {"condition": {"test": "datum.value === 'Control'", "value": "#000000"}, "value": "#ff0000"}}}}},
           "stroke": {"field": "group", "type": "nominal", "scale": {"domain": ["Control", "Placebo"], "range": ["#000000", "#ff0000"]},
                     "legend": {"orient": "none", "legendX": 229, "legendY": 7, "title": null, "padding": 0, "symbolSize": 45, "symbolStrokeWidth": 1.3, "labelFontSize": 9.5, "labelOffset": 7, "rowPadding": 4,
                       "encode": {"symbols": {
                         "shape": {"condition": {"test": "datum.value === 'Control'", "value": "M-1,0A1,1,0,1,1,1,0A1,1,0,1,1,-1,0ZM-1.7,0L1.7,0"}, "value": "M-1.1,-1.1H1.1V1.1H-1.1ZM-1.7,0L1.7,0"},
                         "size": {"value": 45},
                         "fill": {"condition": {"test": "datum.value === 'Control'", "value": "transparent"}, "value": "#ff0000"},
                         "stroke": {"condition": {"test": "datum.value === 'Control'", "value": "#000000"}, "value": "#ff0000"}}}}},
           "fill": {"field": "group", "type": "nominal", "scale": {"domain": ["Control", "Placebo"], "range": ["transparent", "#ff0000"]},
                     "legend": {"orient": "none", "legendX": 229, "legendY": 7, "title": null, "padding": 0, "symbolSize": 45, "symbolStrokeWidth": 1.3, "labelFontSize": 9.5, "labelOffset": 7, "rowPadding": 4,
                       "encode": {"symbols": {
                         "shape": {"condition": {"test": "datum.value === 'Control'", "value": "M-1,0A1,1,0,1,1,1,0A1,1,0,1,1,-1,0ZM-1.7,0L1.7,0"}, "value": "M-1.1,-1.1H1.1V1.1H-1.1ZM-1.7,0L1.7,0"},
                         "size": {"value": 45},
                         "fill": {"condition": {"test": "datum.value === 'Control'", "value": "transparent"}, "value": "#ff0000"},
                         "stroke": {"condition": {"test": "datum.value === 'Control'", "value": "#000000"}, "value": "#ff0000"}}}}},
           "size": {"field": "group", "type": "nominal", "scale": {"domain": ["Control", "Placebo"], "range": [53, 69]},
                     "legend": {"orient": "none", "legendX": 229, "legendY": 7, "title": null, "padding": 0, "symbolSize": 45, "symbolStrokeWidth": 1.3, "labelFontSize": 9.5, "labelOffset": 7, "rowPadding": 4,
                       "encode": {"symbols": {
                         "shape": {"condition": {"test": "datum.value === 'Control'", "value": "M-1,0A1,1,0,1,1,1,0A1,1,0,1,1,-1,0ZM-1.7,0L1.7,0"}, "value": "M-1.1,-1.1H1.1V1.1H-1.1ZM-1.7,0L1.7,0"},
                         "size": {"value": 45},
                         "fill": {"condition": {"test": "datum.value === 'Control'", "value": "transparent"}, "value": "#ff0000"},
                         "stroke": {"condition": {"test": "datum.value === 'Control'", "value": "#000000"}, "value": "#ff0000"}}}}}
         }},
        {"data": {"name": "stars_time"}, "transform": [{"filter": "datum.strain === 'DBA.2'"}],
         "mark": {"type": "text", "fontSize": 15, "fontWeight": "bold", "baseline": "middle", "dy": 4},
         "encoding": {
           "x": {"field": "day", "type": "quantitative", "scale": {"domain": [-0.5, 7.5], "nice": false, "zero": false},
                 "axis": {"orient": "top", "title": "E", "titleX": -30, "titleY": -28, "titleAngle": 0, "titleAlign": "center", "titleBaseline": "middle", "titleFontSize": 14.5, "titleFontWeight": "bold", "labels": false, "ticks": false, "domain": false}},
           "y": {"field": "y", "type": "quantitative", "scale": {"domain": [0, 3000], "nice": false}, "axis": null},
           "text": {"field": "label"}
         }}
      ]
    },
    {
      "width": 282, "height": 189,
      "resolve": {"axis": {"x": "independent", "y": "independent"}},
      "layer": [
        {"data": {"name": "dots"}, "transform": [{"filter": "datum.strain === 'DBA.2'"}],
         "mark": {"type": "point", "opacity": 1, "strokeWidth": 1.2},
         "encoding": {
           "x": {"field": "group", "type": "nominal", "scale": {"type": "band", "domain": ["Control", "Placebo", "OS (20 mg/kg/d)"], "paddingInner": 0, "paddingOuter": 0},
                 "axis": {"orient": "bottom", "title": null, "tickSize": 5, "labelPadding": 12, "labelFontSize": 11.5, "labelAngle": 0}},
           "xOffset": {"field": "slot", "type": "quantitative", "scale": {"domain": [-7.42, 7.42]}},
           "y": {"field": "value", "type": "quantitative", "scale": {"domain": [0, 3000], "nice": false},
                 "axis": {"orient": "left", "values": [0,1000,2000,3000], "format": "d", "title": "SAA at 3 DPI (µg/ml)", "tickSize": 4.5, "labelPadding": 0.5, "titleFontSize": 13.5, "titleX": -31.5, "titleBaseline": "middle"}},
           "shape": {"field": "group", "type": "nominal", "scale": {"domain": ["Control", "Placebo", "OS (20 mg/kg/d)"], "range": ["circle", "square", "triangle-up"]}, "legend": null},
           "stroke": {"field": "group", "type": "nominal", "scale": {"domain": ["Control", "Placebo", "OS (20 mg/kg/d)"], "range": ["#000000", "#ff0000", "#0000ff"]}, "legend": null},
           "fill": {"field": "group", "type": "nominal", "scale": {"domain": ["Control", "Placebo", "OS (20 mg/kg/d)"], "range": ["transparent", "#ff0000", "#0000ff"]}, "legend": null},
           "size": {"field": "group", "type": "nominal", "scale": {"domain": ["Control", "Placebo", "OS (20 mg/kg/d)"], "range": [42, 53, 69]}, "legend": null}
         }},
        {"data": {"name": "dots"}, "transform": [{"filter": "datum.strain === 'DBA.2'"}],
         "mark": {"type": "tick", "orient": "horizontal", "size": 62, "thickness": 1.5, "opacity": 1},
         "encoding": {
           "x": {"field": "group", "type": "nominal", "scale": {"type": "band", "domain": ["Control", "Placebo", "OS (20 mg/kg/d)"], "paddingInner": 0, "paddingOuter": 0},
                 "axis": {"orient": "top", "title": "DBA.2", "titleX": 141, "titleY": -27, "titleAngle": 0, "titleAlign": "center", "titleBaseline": "middle", "titleFontSize": 15.5, "labels": false, "ticks": false, "domain": false}},
           "y": {"aggregate": "mean", "field": "value", "type": "quantitative", "scale": {"domain": [0, 3000], "nice": false}, "axis": null},
           "color": {"field": "group", "type": "nominal", "scale": {"domain": ["Control", "Placebo", "OS (20 mg/kg/d)"], "range": ["#000000", "#222222", "#333333"]}, "legend": null}
         }},
        {"data": {"name": "stars_dots"}, "transform": [{"filter": "datum.strain === 'DBA.2'"}],
         "mark": {"type": "text", "fontSize": 15, "fontWeight": "bold", "baseline": "middle", "dy": 4},
         "encoding": {
           "x": {"field": "group", "type": "nominal", "scale": {"type": "band", "domain": ["Control", "Placebo", "OS (20 mg/kg/d)"], "paddingInner": 0, "paddingOuter": 0},
                 "axis": {"orient": "top", "title": "F", "titleX": -32, "titleY": -28, "titleAngle": 0, "titleAlign": "center", "titleBaseline": "middle", "titleFontSize": 14.5, "titleFontWeight": "bold", "labels": false, "ticks": false, "domain": false}},
           "y": {"field": "y", "type": "quantitative", "scale": {"domain": [0, 3000], "nice": false}, "axis": null},
           "text": {"field": "label"}
         }}
      ]
    }
  ],
  "config": {
    "font": "Liberation Sans",
    "view": {"stroke": null},
    "axis": {"grid": false, "domainColor": "#000000", "domainWidth": 1.7, "tickColor": "#000000", "tickWidth": 1.4, "labelColor": "#000000", "titleColor": "#000000", "labelFontSize": 10, "titleFontWeight": "normal", "labelFont": "Liberation Sans", "titleFont": "Liberation Sans"},
    "legend": {"labelColor": "#000000", "labelFont": "Liberation Sans"},
    "text": {"font": "Liberation Sans"}
  }
}
